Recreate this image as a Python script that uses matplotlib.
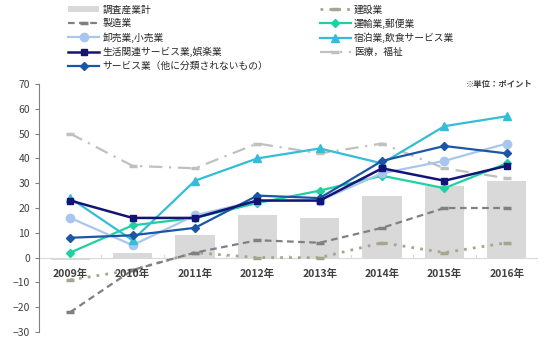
import numpy as np
import matplotlib
matplotlib.use("Agg")
import matplotlib.pyplot as plt

plt.rcParams['font.family'] = ['Noto Sans CJK JP', 'DejaVu Sans']

# ------------------------------------------------------------------ data
years = ["2009年", "2010年", "2011年", "2012年", "2013年", "2014年", "2015年", "2016年"]

total        = [-1, 2, 9, 17, 16, 25, 29, 31]            # 調査産業計 (bars)
construction = [-9, -5, 2, 0, 0, 6, 2, 6]                # 建設業
manufacture  = [-22, -5, 2, 7, 6, 12, 20, 20]            # 製造業
transport    = [2, 13, 16, 22, 27, 33, 28, 38]           # 運輸業,郵便業
wholesale    = [16, 5, 17, 23, 23, 34, 39, 46]           # 卸売業,小売業
hospitality  = [24, 7, 31, 40, 44, 38, 53, 57]           # 宿泊業,飲食サービス業
living       = [23, 16, 16, 23, 23, 36, 31, 37]          # 生活関連サービス業,娯楽業
medical      = [50, 37, 36, 46, 42, 46, 36, 32]          # 医療，福祉
services     = [8, 9, 12, 25, 24, 39, 45, 42]            # サービス業（他に分類されないもの）

# ------------------------------------------------------------------ plot
fig = plt.figure(figsize=(5.5, 3.52), dpi=100)
ax = fig.add_axes([39/550, 1 - 332/352, 499/550, 248/352])
x = np.arange(len(years))

h = {}
h["total"] = ax.bar(x, total, width=0.63, color="#d9d9d9", label="調査産業計", zorder=1)
h["constr"], = ax.plot(x, construction, ls=(0, (1, 2.2)), color="#a6a68f", lw=2,
                       marker="_", ms=6, mew=2.5, label="建設業", zorder=2)
h["manu"], = ax.plot(x, manufacture, ls=(0, (3, 2)), color="#808080", lw=1.6,
                     marker="_", ms=6, mew=2.5, label="製造業", zorder=2)
h["med"], = ax.plot(x, medical, ls=(0, (6, 3, 1, 3)), color="#c0c0c0", lw=1.6,
                    marker="_", ms=6, mew=2.5, label="医療，福祉", zorder=2)
h["trans"], = ax.plot(x, transport, color="#1fd1a0", lw=1.6, marker="D", ms=4.5,
                      label="運輸業,郵便業", zorder=3)
h["whole"], = ax.plot(x, wholesale, color="#a9c6ee", lw=1.6, marker="o", ms=6,
                      label="卸売業,小売業", zorder=3)
h["hosp"], = ax.plot(x, hospitality, color="#33bdd6", lw=1.6, marker="^", ms=6,
                     label="宿泊業,飲食サービス業", zorder=3)
h["serv"], = ax.plot(x, services, color="#1b56a6", lw=1.6, marker="D", ms=4.5,
                     label="サービス業（他に分類されないもの）", zorder=4)
h["live"], = ax.plot(x, living, color="#141478", lw=1.8, marker="s", ms=4.5,
                     label="生活関連サービス業,娯楽業", zorder=4)

# zero line as category axis
ax.axhline(0, color="#d9d9d9", lw=0.8, zorder=0)
for b in np.arange(len(years) + 1) - 0.5:
    ax.plot([b, b], [0, 1.2], color="#d9d9d9", lw=0.8, zorder=0)

ax.set_xlim(-0.5, len(years) - 0.5)
ax.set_ylim(-30, 70)
ax.set_yticks(range(-30, 71, 10))
ax.tick_params(axis="y", labelsize=7.5, colors="#404040", length=3, color="#808080")
ax.set_xticks([])
for xi, lab in zip(x, years):
    ax.text(xi, -6.5, lab, ha="center", va="center", fontsize=7.5,
            fontweight="bold", color="#404040")

for s in ("top", "right", "bottom"):
    ax.spines[s].set_visible(False)
ax.spines["left"].set_color("#808080")
ax.spines["left"].set_linewidth(0.8)

ax.text(0.99, 1.0, "※単位：ポイント", transform=ax.transAxes, ha="right", va="center",
        fontsize=6, fontweight="bold", color="#404040")

order = ["total", "manu", "whole", "live", "serv", "constr", "trans", "hosp", "med"]
fig.legend([h[k] for k in order], [h[k].get_label() for k in order],
           ncol=2, loc="upper left", bbox_to_anchor=(64/550, 1.0), frameon=False,
           fontsize=7, handlelength=3.2, columnspacing=5.3, labelspacing=0.4,
           handletextpad=0.3, borderaxespad=0.05, labelcolor="#262626")

fig.savefig("out.png", dpi=100)
